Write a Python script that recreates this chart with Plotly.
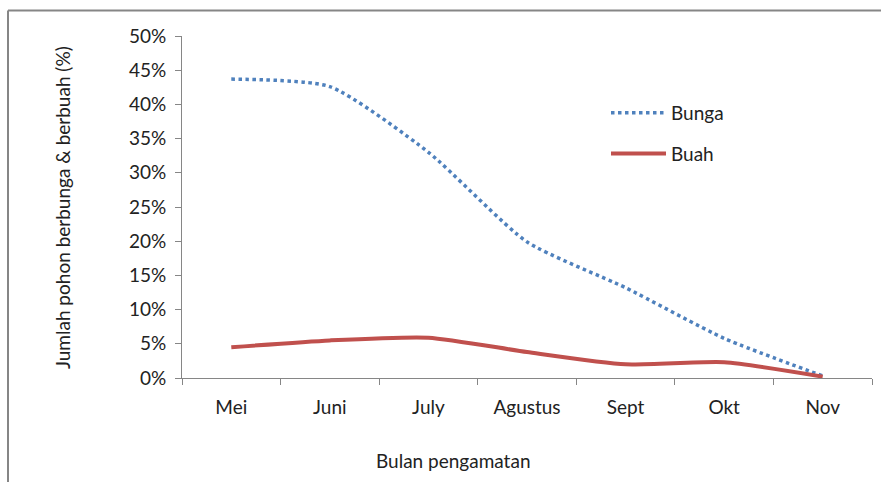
import plotly.graph_objects as go

months = ["Mei", "Juni", "July", "Agustus", "Sept", "Okt", "Nov"]
bunga = [0.437, 0.426, 0.330, 0.199, 0.132, 0.058, 0.003]
buah = [0.045, 0.055, 0.059, 0.038, 0.020, 0.023, 0.002]

font = "Lato, 'Open Sans', sans-serif"
FS = 19
fig = go.Figure()
fig.add_trace(go.Scatter(x=months, y=bunga, name="Bunga", mode="lines",
                         line=dict(color="#4F81BD", width=3.5, dash="dot", shape="spline", smoothing=0.6),
                         legendgroup="a"))
fig.add_trace(go.Scatter(x=months, y=buah, name="Buah", mode="lines",
                         line=dict(color="#C0504D", width=4, shape="spline", smoothing=0.6),
                         legendgroup="b"))

W, H = 881, 482
L, R, T, B = 182, 9, 36, 104
pw, ph = W - L - R, H - T - B

def px(x):
    return (x - L) / pw

def py(y):
    return (H - B - y) / ph

fig.update_layout(
    width=W, height=H,
    margin=dict(l=L, r=R, t=T, b=B),
    paper_bgcolor="white", plot_bgcolor="white",
    font=dict(family=font, size=FS, color="#222222"),
    showlegend=True,
    legend=dict(x=px(606), y=py(94), xanchor="left", yanchor="top",
                font=dict(size=FS), tracegroupgap=13, itemwidth=55,
                bgcolor="rgba(0,0,0,0)"),
    xaxis=dict(showline=True, linecolor="#868686", linewidth=1.3, ticks="outside",
               tickson="boundaries", ticklen=6, tickcolor="#868686", range=[-0.5, 6.5],
               showgrid=False, tickfont=dict(size=FS), fixedrange=True,
               ticklabelstandoff=12),
    yaxis=dict(range=[0, 0.5], dtick=0.05, tickformat=".0%", showline=True,
               linecolor="#868686", linewidth=1.3, ticks="outside", ticklen=6,
               tickcolor="#868686", showgrid=False, zeroline=False,
               tickfont=dict(size=FS), ticksuffix=" "),
    shapes=[
        dict(type="line", xref="paper", yref="paper", x0=px(8), x1=px(881), y0=py(10.5), y1=py(10.5),
             line=dict(color="#868686", width=2)),
        dict(type="line", xref="paper", yref="paper", x0=px(8), x1=px(8), y0=py(10.5), y1=py(482),
             line=dict(color="#868686", width=2)),
    ],
    annotations=[
        dict(text="Jumlah pohon berbunga & berbuah (%)", xref="paper", yref="paper",
             x=px(62), y=py(208), textangle=-90, showarrow=False,
             font=dict(size=FS), xanchor="center", yanchor="middle"),
        dict(text="Bulan pengamatan", xref="paper", yref="paper",
             x=px(453), y=py(460), showarrow=False,
             font=dict(size=FS), xanchor="center", yanchor="middle"),
    ],
)
fig.write_html("out.html", config={"displayModeBar": False},
               post_script="document.body.style.margin='0';document.body.style.overflow='hidden';")
